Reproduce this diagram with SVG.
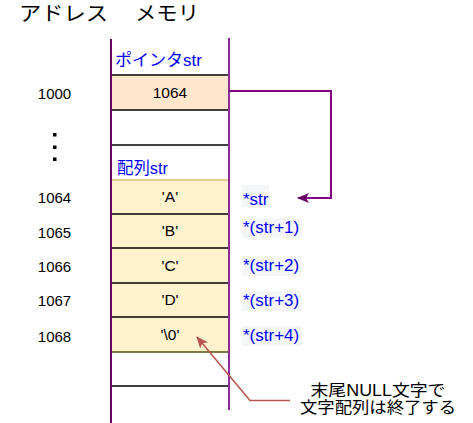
<svg xmlns="http://www.w3.org/2000/svg" width="473" height="423" viewBox="0 0 473 423">
<style>
text{font-family:"Liberation Sans","Noto Sans CJK JP",sans-serif;}
.addr{font-size:15px;fill:#000;text-anchor:middle;}
.cell{font-size:15.5px;fill:#000;text-anchor:middle;}
.blue{font-size:17px;fill:#0000FF;}
.lbl{font-size:16.5px;fill:#0000FF;}
.sep{stroke:#000;stroke-width:1.3;}
.gold{stroke:#C9A53A;stroke-width:1;}
.bg{fill:#F5F6F8;}
</style>
<defs>
<marker id="pa" viewBox="0 0 12 10" markerWidth="12" markerHeight="10" refX="11" refY="5" orient="auto" markerUnits="userSpaceOnUse">
<path d="M0,0 L12,5 L0,10 L3,5 Z" fill="#660066"/>
</marker>
<marker id="ra" viewBox="0 0 12 10" markerWidth="12" markerHeight="10" refX="11" refY="5" orient="auto" markerUnits="userSpaceOnUse">
<path d="M0,0 L12,5 L0,10 L3,5 Z" fill="#B85450"/>
</marker>
</defs>
<rect width="473" height="423" fill="#fff"/>

<g id="title">
<text x="19" y="21" font-size="20" textLength="89" lengthAdjust="spacingAndGlyphs">アドレス</text>
<text x="135" y="21" font-size="20" textLength="64" lengthAdjust="spacingAndGlyphs">メモリ</text>
</g>

<g id="memory">
<rect x="111" y="75" width="118" height="35" fill="#FFE6CC"/>
<rect x="111" y="180" width="118" height="172" fill="#FFF2CC"/>
<line class="sep" x1="111" y1="75" x2="229" y2="75"/>
<line class="sep" x1="111" y1="110" x2="229" y2="110"/>
<line class="sep" x1="111" y1="145" x2="229" y2="145"/>
<line class="gold" x1="111" y1="180" x2="229" y2="180"/>
<line class="sep" x1="111" y1="214" x2="229" y2="214"/>
<line class="sep" x1="111" y1="248" x2="229" y2="248"/>
<line class="sep" x1="111" y1="283" x2="229" y2="283"/>
<line class="sep" x1="111" y1="317" x2="229" y2="317"/>
<line x1="111" y1="352" x2="229" y2="352" stroke="#5a4a10" stroke-width="1.3"/>
<line class="sep" x1="111" y1="386" x2="229" y2="386"/>
<line x1="111" y1="39" x2="111" y2="423" stroke="#660066" stroke-width="2"/>
<line x1="229" y1="38" x2="229" y2="410" stroke="#8A2D96" stroke-width="2"/>
</g>

<g id="labels-in-memory">
<text class="lbl" x="115" y="66" textLength="87" lengthAdjust="spacingAndGlyphs">ポインタstr</text>
<text class="lbl" x="117" y="174" textLength="51" lengthAdjust="spacingAndGlyphs">配列str</text>
<text class="cell" x="170" y="98">1064</text>
<text class="cell" x="170" y="202">'A'</text>
<text class="cell" x="170" y="236">'B'</text>
<text class="cell" x="170" y="271">'C'</text>
<text class="cell" x="170" y="305">'D'</text>
<text class="cell" x="170" y="340">'\0'</text>
</g>

<g id="addresses">
<text class="addr" x="54.5" y="99">1000</text>
<rect x="53" y="133" width="3.5" height="3.5" fill="#000"/>
<rect x="53" y="145.5" width="3.5" height="3.5" fill="#000"/>
<rect x="53" y="157.5" width="3.5" height="3.5" fill="#000"/>
<text class="addr" x="54.5" y="203">1064</text>
<text class="addr" x="54.5" y="238">1065</text>
<text class="addr" x="54.5" y="272">1066</text>
<text class="addr" x="54.5" y="306">1067</text>
<text class="addr" x="54.5" y="342">1068</text>
</g>

<g id="pointer-labels">
<rect class="bg" x="242" y="185" width="27" height="22"/>
<text class="blue" x="243" y="205">*str</text>
<rect class="bg" x="242" y="218" width="60" height="20"/>
<text class="blue" x="243" y="233">*(str+1)</text>
<rect class="bg" x="242" y="256" width="60" height="20"/>
<text class="blue" x="243" y="271">*(str+2)</text>
<rect class="bg" x="242" y="291" width="60" height="20"/>
<text class="blue" x="243" y="306">*(str+3)</text>
<rect class="bg" x="242" y="326" width="60" height="20"/>
<text class="blue" x="243" y="341">*(str+4)</text>
</g>

<g id="note">
<text x="378" y="396" font-size="16" text-anchor="middle" textLength="135" lengthAdjust="spacingAndGlyphs">末尾NULL文字で</text>
<text x="378" y="413" font-size="16" text-anchor="middle" textLength="156" lengthAdjust="spacingAndGlyphs">文字配列は終了する</text>
</g>

<g id="connectors" fill="none">
<path d="M229,91 H331 V198 H298" stroke="#800080" stroke-width="2" marker-end="url(#pa)"/>
<path d="M290,400.5 H250 L197,337" stroke="#B85450" stroke-width="1.5" marker-end="url(#ra)"/>
</g>
</svg>
